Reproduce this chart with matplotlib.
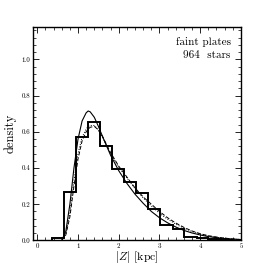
import numpy as np
import matplotlib
matplotlib.use('Agg')
import matplotlib.pyplot as plt
from matplotlib.ticker import MultipleLocator

plt.rcParams['font.family'] = 'cmr10'
plt.rcParams['mathtext.fontset'] = 'cm'
plt.rcParams['axes.formatter.use_mathtext'] = True

# histogram of |Z|
edges = [0.36, 0.66, 0.95, 1.25, 1.55, 1.84, 2.14, 2.43, 2.73, 3.02, 3.32, 3.61, 3.91, 4.20, 4.50, 4.80]
counts = [0.015, 0.27, 0.57, 0.655, 0.523, 0.394, 0.32, 0.263, 0.175, 0.087, 0.061, 0.02, 0.013, 0.008, 0.004]

zs = [0.6, 0.7, 0.8, 0.9, 1.0, 1.1, 1.2, 1.25, 1.3, 1.4, 1.5, 1.6, 1.8, 2.0, 2.2, 2.4, 2.6, 2.8, 3.0, 3.2, 3.4, 3.6, 3.8, 4.0, 4.2, 4.5, 4.8, 5.0]
solid = [0.0, 0.05, 0.2, 0.4, 0.56, 0.66, 0.705, 0.715, 0.71, 0.68, 0.63, 0.575, 0.47, 0.385, 0.315, 0.255, 0.205, 0.16, 0.125, 0.097, 0.074, 0.055, 0.041, 0.03, 0.021, 0.012, 0.007, 0.004]
dashed = [0.0, 0.03, 0.13, 0.3, 0.45, 0.55, 0.6, 0.615, 0.625, 0.63, 0.61, 0.575, 0.485, 0.41, 0.35, 0.29, 0.24, 0.2, 0.16, 0.125, 0.096, 0.072, 0.052, 0.037, 0.026, 0.015, 0.008, 0.005]
dotted = [0.0, 0.035, 0.15, 0.33, 0.48, 0.57, 0.615, 0.63, 0.635, 0.635, 0.61, 0.57, 0.48, 0.405, 0.345, 0.285, 0.235, 0.19, 0.15, 0.117, 0.09, 0.067, 0.049, 0.035, 0.024, 0.014, 0.008, 0.005]

fig = plt.figure(figsize=(2.68, 2.68), dpi=100)
ax = fig.add_axes([0.124, 0.103, 0.775, 0.797])

ax.stairs(counts, edges, color='black', lw=1.4)
ax.plot(zs, solid, color='black', lw=0.8)
ax.plot(zs, dashed, color='black', lw=0.7, ls=(0, (4, 2)))
ax.plot(zs, dotted, color='black', lw=0.7, ls=':')

ax.set_xlim(-0.1, 5)
ax.set_ylim(0, 1.18)
ax.xaxis.set_major_locator(MultipleLocator(1))
ax.xaxis.set_minor_locator(MultipleLocator(0.2))
ax.yaxis.set_major_locator(MultipleLocator(0.2))
ax.yaxis.set_minor_locator(MultipleLocator(0.04))
ax.tick_params(which='both', direction='in', top=True, right=True, labelsize=5, pad=2)
ax.tick_params(which='major', length=4, width=0.6)
ax.tick_params(which='minor', length=2, width=0.5)
ax.xaxis.set_major_formatter(plt.FormatStrFormatter('%d'))
ax.yaxis.set_major_formatter(plt.FormatStrFormatter('%.1f'))
for s in ax.spines.values():
    s.set_linewidth(1.0)

ax.set_xlabel(r'$|Z|$ [kpc]', fontsize=8.5, labelpad=0)
ax.set_ylabel('density', fontsize=9, labelpad=4)
ax.text(0.95, 0.93, 'faint plates', transform=ax.transAxes, ha='right', va='center', fontsize=8)
ax.text(0.95, 0.865, '964  stars', transform=ax.transAxes, ha='right', va='center', fontsize=8)

fig.savefig('out.png', dpi=100)
